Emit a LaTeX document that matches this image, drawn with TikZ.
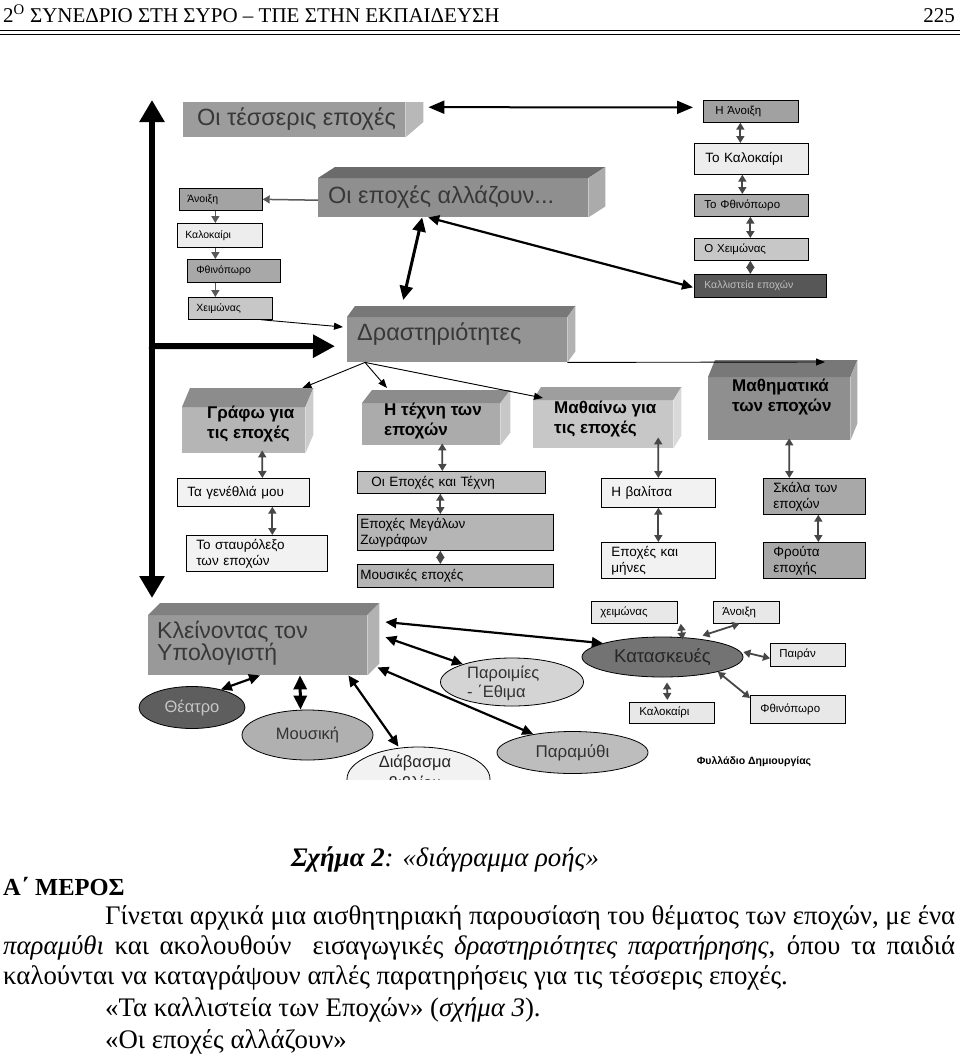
\documentclass[tikz,border=0pt]{standalone}
\usepackage{fontspec}
\setmainfont{Liberation Serif}
\newfontfamily\dsans{Liberation Sans}
\usetikzlibrary{arrows.meta,shapes.geometric}
\newcommand\ftXS{\dsans\fontsize{10.5}{12.5}\selectfont}
\newcommand\ftS{\dsans\fontsize{11.5}{13.5}\selectfont}
\newcommand\ftM{\dsans\fontsize{13.5}{16}\selectfont}
\newcommand\ftL{\dsans\fontsize{16.5}{19}\selectfont}
\newcommand\ftB{\dsans\bfseries\fontsize{17}{20}\selectfont}
\newcommand\ftXL{\dsans\fontsize{23.5}{23.5}\selectfont}
\newcommand\ftK{\dsans\fontsize{23}{21}\selectfont}
\newcommand\bodyf{\fontsize{26.8}{30}\selectfont}
\newcommand\sbx[9]{%
  \pgfmathsetmacro\tw{#4-2*#7}%
  \node[sbox,fill=#6,minimum width=#4pt,minimum height=#5pt,inner xsep=#7pt,text width=\tw pt,font=#8] (#1) at (#2,#3) {#9};}
\newcommand\faces[5]{%
  \fill[#4] (#1.north west) -- ++(#2,-#3) -- ([shift={(#2,-#3)}]#1.north east) -- (#1.north east) -- cycle;
  \fill[#5] (#1.north east) -- ++(#2,-#3) -- ([shift={(#2,-#3)}]#1.south east) -- (#1.south east) -- cycle;}
\newcommand\front[6]{%
  \node[front,fill=#6,minimum width=#4pt,minimum height=#5pt] (#1) at (#2,#3) {};}
\begin{document}
\begin{tikzpicture}[x=1pt,y=-1pt,
 sbox/.style={draw=black,line width=0.7pt,inner ysep=0pt,anchor=north west,align=left},
 front/.style={anchor=north west,inner sep=0pt,draw=none},
 lbl/.style={anchor=west,inner sep=0pt,align=left,text=black!78},
 blbl/.style={anchor=north west,inner sep=0pt,align=left,text=black,font=\ftB},
 ell/.style={ellipse,draw=black,line width=0.8pt,inner sep=0pt},
 big/.style={line width=6pt,{Triangle[width=24pt,length=22pt]}-{Triangle[width=24pt,length=22pt]}},
 bigone/.style={line width=6pt,-{Triangle[width=22pt,length=22pt]}},
 thk/.style={line width=3pt,{Triangle[width=13pt,length=14pt]}-{Triangle[width=13pt,length=14pt]}},
 med/.style={line width=2.2pt,{Triangle[width=10pt,length=11pt]}-{Triangle[width=10pt,length=11pt]}},
 thin/.style={line width=0.9pt,-{Triangle[width=7pt,length=9pt]}},
 sdar/.style={draw=black!72,line width=1.8pt,{Triangle[width=8pt,length=7pt]}-{Triangle[width=8pt,length=7pt]}},
 sar/.style={draw=black!65,line width=1.5pt,-{Triangle[width=8pt,length=7pt]}},
]
\fill[white] (0,0) rectangle (960,1058);
\useasboundingbox (0,0) rectangle (960,1058);
% header
\node[anchor=base west,inner sep=0pt,font=\fontsize{21}{22}\selectfont] (hdr) at (3,22) {2\textsuperscript{Ο} ΣΥΝΕΔΡΙΟ ΣΤΗ ΣΥΡΟ – ΤΠΕ ΣΤΗΝ ΕΚΠΑΙΔΕΥΣΗ};
\node[anchor=base east,inner sep=0pt,font=\fontsize{21}{22}\selectfont] (pg) at (955,22) {225};
\coordinate (ha) at (0,30.5); \coordinate (hb) at (960,30.5);
\coordinate (hc) at (0,33.8); \coordinate (hd) at (960,33.8);
\draw[line width=1.8pt] (ha) -- (hb);
\draw[line width=0.6pt] (hc) -- (hd);
% 3D boxes
\front{tes}{183}{102}{222}{35}{black!39}
\fill[black!28] (tes.north east) -- ++(18,0) -- ++(0,20) -- (tes.south east) -- cycle;
\node[lbl,font=\ftXL] (tesT) at (197,119) {Οι τέσσερις εποχές};
\front{all}{318}{178}{270}{39}{black!44}
\faces{all}{17}{11}{black!58}{black!33}
\node[lbl,font=\ftXL] (allT) at (328,197) {Οι εποχές αλλάζουν...};
\front{dra}{347}{317}{220}{45}{black!42}
\faces{dra}{8}{11}{black!53}{black!30}
\node[lbl,font=\ftXL] (draT) at (357,334) {Δραστηριότητες};
\front{gra}{182}{407}{123}{46}{black!29}
\faces{gra}{8}{19}{black!45}{black!20}
\node[blbl] (graT) at (207,406) {Γράφω για\\τις εποχές};
\front{tex}{362}{403}{138}{42}{black!33}
\faces{tex}{10}{13}{black!45}{black!22}
\node[blbl] (texT) at (384,403) {Η τέχνη των\\εποχών};
\front{mat}{533}{400}{140}{48}{black!22}
\faces{mat}{8}{13}{black!38}{black!15}
\node[blbl] (matT) at (554,401) {Μαθαίνω για\\τις εποχές};
\front{mth}{708}{377}{142}{63}{black!44}
\faces{mth}{7}{17}{black!53}{black!33}
\node[blbl] (mthT) at (732,379) {Μαθηματικά\\των εποχών};
\front{kle}{148}{615}{219}{60}{black!40}
\faces{kle}{12}{12}{black!50}{black!30}
\node[lbl,font=\ftK,anchor=north west] (kleT) at (157,621) {Κλείνοντας τον\\Υπολογιστή};
% small boxes
\sbx{lA}{179}{188}{83}{22}{black!36}{8}{\ftXS}{Άνοιξη}
\sbx{lK}{177}{223}{85}{24}{black!7}{8}{\ftXS}{Καλοκαίρι}
\sbx{lF}{187}{259}{93}{23}{black!34}{9}{\ftXS}{Φθινόπωρο}
\sbx{lX}{188}{297}{84}{22}{black!22}{8}{\ftXS}{Χειμώνας}
\sbx{rA}{703}{100}{95}{22}{black!37}{12}{\ftS}{Η Άνοιξη}
\sbx{rK}{694}{143}{114}{31}{black!7}{11}{\ftM}{Το Καλοκαίρι}
\sbx{rF}{694}{194}{114}{22}{black!32}{10}{\ftS}{Το Φθινόπωρο}
\sbx{rX}{694}{238}{114}{22}{black!22}{10}{\ftS}{Ο Χειμώνας}
\sbx{rL}{694}{274}{132}{23}{black!66}{10}{\ftXS}{{\color{black!25}Καλλιστεία εποχών}}
\sbx{g1}{177}{478}{132}{28}{black!5}{10}{\ftM}{Τα γενέθλιά μου}
\sbx{g2}{186}{535}{141}{36}{black!5}{10}{\ftM}{Το σταυρόλεξο\\των εποχών}
\sbx{t1}{357}{471}{188}{22}{black!25}{14}{\ftM}{Οι Εποχές και Τέχνη}
\sbx{t2}{357}{514}{196}{36}{black!29}{3}{\ftM}{Εποχές Μεγάλων\\Ζωγράφων}
\sbx{t3}{357}{564}{196}{23}{black!29}{3}{\ftM}{Μουσικές εποχές}
\sbx{m1}{601}{478}{114}{29}{black!5}{10}{\ftM}{Η βαλίτσα}
\sbx{m2}{601}{542}{114}{36}{black!5}{10}{\ftM}{Εποχές και\\μήνες}
\sbx{h1}{763}{478}{102}{36}{black!34}{10}{\ftM}{Σκάλα των\\εποχών}
\sbx{h2}{763}{542}{102}{36}{black!34}{10}{\ftM}{Φρούτα\\εποχής}
\sbx{kc}{591}{601}{86}{22}{black!9}{9}{\ftS}{χειμώνας}
\sbx{ka}{713}{601}{66}{22}{black!9}{9}{\ftS}{Άνοιξη}
\sbx{kp}{770}{643}{75}{23}{black!9}{9}{\ftS}{Παιράν}
\sbx{kk}{629}{702}{85}{21}{black!9}{10}{\ftS}{Καλοκαίρι}
\sbx{kf}{750}{695}{95}{28}{black!9}{10}{\ftS}{Φθινόπωρο}
\node[font=\dsans\bfseries\fontsize{10.5}{12}\selectfont,inner sep=0pt] (fyl) at (754,762) {Φυλλάδιο Δημιουργίας};
% ellipses
\node[ell,fill=black!63,minimum width=106pt,minimum height=42pt,font=\ftL,text=black!22] (the) at (192,707.5) {Θέατρο};
\node[ell,fill=black!31,minimum width=131pt,minimum height=50pt,font=\ftL,text=black!80] (mus) at (307.5,735) {Μουσική};
\node[ell,fill=black!17,minimum width=143pt,minimum height=48pt] (par) at (512,682) {};
\node[font=\ftL,text=black!80,align=left,inner sep=0pt,anchor=north west] (parT) at (467,666) {Παροιμίες\\- ΄Εθιμα};
\node[ell,fill=black!26,minimum width=151pt,minimum height=42pt,font=\dsans\fontsize{17}{19}\selectfont,text=black!80] (pmy) at (572.5,752.5) {Παραμύθι};
\node[ell,fill=black!55,minimum width=161pt,minimum height=40pt,font=\dsans\fontsize{18.5}{20}\selectfont,text=black!85] (kat) at (662.5,657) {Κατασκευές};
\begin{scope}
\clip (130,90) rectangle (900,779);
\node[ell,fill=black!5,minimum width=143pt,minimum height=64pt] (dia) at (418.5,779) {};
\node[font=\ftL,text=black!85,inner sep=0pt] (diaT) at (415,763) {Διάβασμα};
\node[font=\ftL,text=black!85,inner sep=0pt] (diaT2) at (415,784) {βιβλίου};
\end{scope}
% connectors
\coordinate (vt) at (152,100); \coordinate (vb) at (152,598); \coordinate (vm) at (149,346);
\draw[big] (vt) -- (vb);
\draw[bigone] (vm) -- ([xshift=-12pt,yshift=-6.5pt]dra.west);
\draw[line width=2pt,{Triangle[width=13pt,length=16pt]}-{Triangle[width=13pt,length=16pt]}] ([xshift=23pt,yshift=12.5pt]tes.east) -- ([xshift=-10pt,yshift=4pt]rA.west);
\draw[sar] ([yshift=-2.5pt]all.west) -- (lA.east);
\draw[thk] ([xshift=-31pt]all.south) -- ([xshift=-54pt,yshift=17pt]dra.north);
\draw[med] ([xshift=-25pt]all.south) -- ([xshift=-1pt,yshift=-1.5pt]rL.west);
\draw[thin] ([xshift=-12pt]lX.south east) -- ([xshift=-4pt,yshift=-10pt]dra.north west);
\draw[thin] ([xshift=18pt]dra.south west) -- ([xshift=-3pt,yshift=19pt]gra.north east);
\draw[thin] ([xshift=18pt]dra.south west) -- ([xshift=25pt,yshift=15pt]tex.north west);
\draw[thin] ([xshift=18pt]dra.south west) -- ([xshift=10pt,yshift=2pt]mat.north west);
\draw[thin] (dra.south east) -- ([xshift=117pt,yshift=15pt]mth.north west);
\draw[sar] ([xshift=-5.5pt]lA.south) -- ([xshift=-4.5pt]lK.north);
\draw[sar] ([xshift=-4.5pt]lK.south) -- ([xshift=-18.5pt]lF.north);
\draw[sar] ([xshift=-18.5pt]lF.south) -- ([xshift=-15pt]lX.north);
\draw[sdar] ([xshift=-10.5pt]rA.south) -- ([xshift=-11pt]rK.north);
\draw[sdar] ([xshift=-9pt]rK.south) -- ([xshift=-9pt]rF.north);
\draw[sdar] ([xshift=-1pt]rF.south) -- ([xshift=-1pt]rX.north);
\draw[sdar] ([xshift=-1pt]rX.south) -- ([xshift=-10pt]rL.north);
\draw[sdar] ([xshift=18.5pt,yshift=3pt]gra.south) -- ([xshift=19pt]g1.north);
\draw[sdar] ([xshift=29pt]g1.south) -- ([xshift=15.5pt]g2.north);
\draw[sdar] ([xshift=11pt,yshift=2pt]tex.south) -- ([xshift=-9pt]t1.north);
\draw[sdar] ([xshift=-11pt]t1.south) -- ([xshift=-15pt]t2.north);
\draw[sdar] ([xshift=-15pt]t2.south) -- ([xshift=-15pt]t3.north);
\draw[sdar] ([xshift=55pt,yshift=11pt]mat.south) -- (m1.north);
\draw[sdar] (m1.south) -- (m2.north);
\draw[sdar] ([xshift=10pt,yshift=2pt]mth.south) -- ([xshift=-25pt]h1.north);
\draw[sdar] ([xshift=4pt]h1.south) -- ([xshift=4pt]h2.north);
\draw[med] ([xshift=112pt]kle.south west) -- (the.32);
\draw[thk] ([xshift=152pt]kle.south west) -- ([xshift=-7pt]mus.north);
\draw[med] ([xshift=-19pt]kle.south east) -- ([xshift=-20pt]dia.north);
\draw[med] ([xshift=18pt,yshift=8pt]kle.east) -- (par.160);
\draw[med] ([xshift=10pt,yshift=8pt]kle.south east) -- (pmy.155);
\draw[med] ([xshift=18pt,yshift=-7pt]kle.north east) -- (kat.167);
\draw[sdar] ([xshift=3pt]kc.south east) -- ([xshift=20pt,yshift=-3pt]kat.north);
\draw[sdar] ([xshift=-7pt]ka.south) -- ([xshift=40pt,yshift=1pt]kat.north);
\draw[sdar] ([yshift=-3.5pt]kp.west) -- ([yshift=5pt]kat.east);
\draw[sdar] ([xshift=-4.5pt,yshift=2pt]kk.north) -- ([xshift=4.5pt,yshift=-5pt]kat.south);
\draw[sdar] (kat.-15) -- ([yshift=-3pt]kf.north west);
% text
\node[anchor=base,inner sep=0pt,font=\bodyf] (cap) at (445,866) {\textbf{\textit{Σχήμα 2}}\textit{: «διάγραμμα ροής»}};
\node[anchor=base west,inner sep=0pt,font=\bfseries\fontsize{24.5}{28}\selectfont] (mer) at (3,895) {Α΄ ΜΕΡΟΣ};
\node[anchor=base west,inner sep=0pt,font=\bodyf] (p1) at (105,924) {\makebox[850pt][s]{Γίνεται αρχικά μια αισθητηριακή παρουσίαση του θέματος των εποχών, με ένα}};
\node[anchor=base west,inner sep=0pt,font=\bodyf] (p2) at (3,954) {\makebox[952pt][s]{\textit{παραμύθι} και ακολουθούν\ \ εισαγωγικές \textit{δραστηριότητες παρατήρησης}, όπου τα παιδιά}};
\node[anchor=base west,inner sep=0pt,font=\bodyf] (p3) at (3,984) {καλούνται να καταγράψουν απλές παρατηρήσεις για τις τέσσερις εποχές.};
\node[anchor=base west,inner sep=0pt,font=\bodyf] (p4) at (105,1016) {«Τα καλλιστεία των Εποχών» (\textit{σχήμα 3}).};
\node[anchor=base west,inner sep=0pt,font=\bodyf] (p5) at (105,1048) {«Οι εποχές αλλάζουν»};
\end{tikzpicture}
\end{document}
